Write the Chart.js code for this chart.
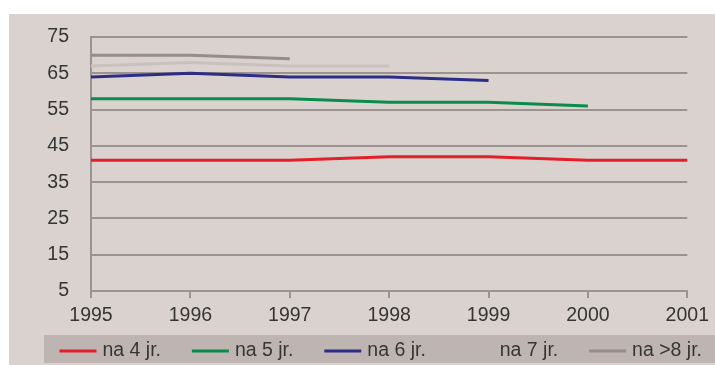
<!DOCTYPE html>
<html lang="nl">
<head>
    <meta charset="UTF-8">
    <title>na jaren</title>
    <script src="https://cdn.jsdelivr.net/npm/chart.js@4/dist/chart.umd.min.js"></script>
    <style>
        html, body { margin: 0; padding: 0; background: #fff; }
        #wrap { width: 715px; height: 365px; }
    </style>
</head>
<body>
    <div id="wrap"><canvas id="paint" width="715" height="365"></canvas></div>
    <script>
        // jaren op de x-as
        var years = ["1995", "1996", "1997", "1998", "1999", "2000", "2001"]
        var yTicks = [5, 15, 25, 35, 45, 55, 65, 75]
        // reeksen
        var na4 = [41, 41, 41, 42, 42, 41, 41]
        var na5 = [58, 58, 58, 57, 57, 56]
        var na6 = [64, 65, 64, 64, 63]
        var na7 = [67, 68, 67, 67]
        var na8 = [70, 70, 69]
        var names = ["na 4 jr.", "na 5 jr.", "na 6 jr.", "na 7 jr.", "na >8 jr."]
        var colors = ["#e2202c", "#0a8b4b", "#2d2d86", "#cac1be", "#978c89"]

        var series = [na4, na5, na6, na7, na8]
        var fontFam = '"Liberation Sans", Arial, sans-serif'

        // achtergrond + legenda-balk
        var backdrop = {
            id: 'backdrop',
            beforeDraw: function (chart) {
                var c = chart.ctx
                c.save()
                c.fillStyle = '#d9d2cf'
                c.fillRect(9, 14, 706, 351)
                c.fillStyle = '#beb5b2'
                c.fillRect(44, 335, 671, 28)
                c.restore()
            },
            afterDraw: function (chart) {
                var c = chart.ctx
                var ds = chart.data.datasets
                c.save()
                c.font = '19.5px ' + fontFam
                c.textBaseline = 'middle'
                c.fillStyle = '#353535'
                var x = 59.5
                for (var i = 0; i < ds.length; i++) {
                    c.strokeStyle = i == 3 ? '#beb5b2' : ds[i].borderColor
                    c.lineWidth = 3
                    c.beginPath()
                    c.moveTo(x, 351)
                    c.lineTo(x + 37, 351)
                    c.stroke()
                    c.fillText(ds[i].label, x + 43, 351)
                    x += 132.4
                }
                c.restore()
            }
        }

        var ctx = document.getElementById("paint").getContext("2d")
        var chart = new Chart(ctx, {
            type: 'line',
            data: {
                labels: years,
                datasets: series.map(function (d, i) {
                    return {
                        label: names[i],
                        data: d,
                        borderColor: colors[i],
                        backgroundColor: colors[i],
                        borderWidth: 3,
                        pointRadius: 0,
                        tension: 0,
                        fill: false
                    }
                })
            },
            options: {
                responsive: false,
                animation: false,
                layout: { padding: { top: 37, right: 22, left: 0, bottom: 0 } },
                plugins: { legend: { display: false }, tooltip: { enabled: false } },
                scales: {
                    x: {
                        offset: false,
                        grid: { drawOnChartArea: false, drawTicks: true, tickLength: 7, color: '#9c9390', lineWidth: 2 },
                        border: { color: '#9c9390', width: 2 },
                        ticks: { color: '#353535', font: { family: fontFam, size: 19.5 }, padding: 6, maxRotation: 0 },
                        afterFit: function (s) { s.height = 74 }
                    },
                    y: {
                        min: 5,
                        max: 75,
                        afterBuildTicks: function (s) { s.ticks = yTicks.map(function (v) { return { value: v } }) },
                        grid: { drawTicks: false, color: '#9c9390', lineWidth: 2 },
                        border: { color: '#9c9390', width: 2 },
                        ticks: { color: '#353535', font: { family: fontFam, size: 19.5 }, padding: 22 },
                        afterFit: function (s) { s.width = 91 }
                    }
                }
            },
            plugins: [backdrop]
        })
    </script>
</body>
</html>
